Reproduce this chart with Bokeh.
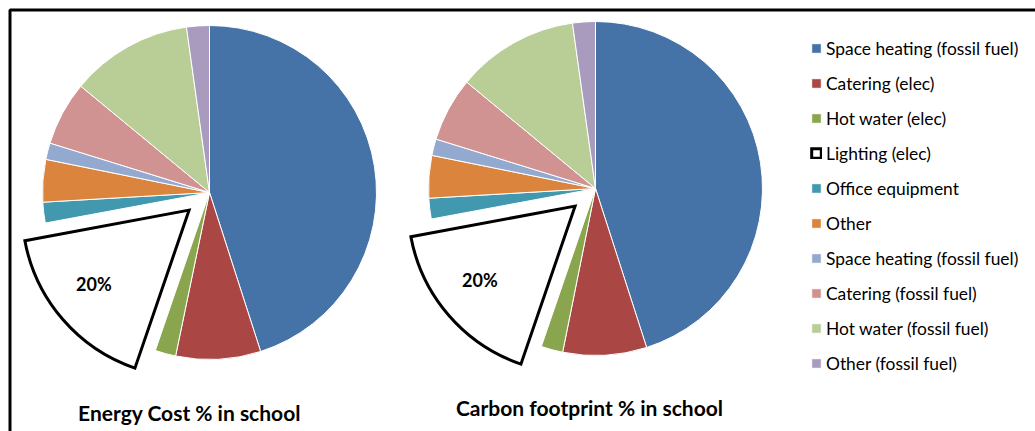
import math
from bokeh.plotting import figure
from bokeh.models import ColumnDataSource, Legend, LegendItem, Range1d, BoxAnnotation
from bokeh.core.properties import value
from bokeh.embed import file_html
from bokeh.resources import INLINE

# ---------------- data ----------------
categories = [
    "Space heating (fossil fuel)",
    "Catering (elec)",
    "Hot water (elec)",
    "Lighting (elec)",
    "Office equipment",
    "Other",
    "Space heating (fossil fuel)",
    "Catering (fossil fuel)",
    "Hot water (fossil fuel)",
    "Other (fossil fuel)",
]
energy_cost = [45.0, 8.2, 2.0, 16.8, 2.0, 4.1, 1.6, 6.2, 11.8, 2.2]
carbon_footprint = [45.0, 8.1, 2.1, 16.8, 2.0, 4.1, 1.6, 6.2, 11.8, 2.2]
slice_labels = ["", "", "", "20%", "", "", "", "", "", ""]
chart_titles = ["Energy Cost % in school", "Carbon footprint % in school"]

# ---------------- style ----------------
colors = ["#4572A7", "#AA4643", "#89A54E", "#FFFFFF", "#4198AF",
          "#DB843D", "#93A9CF", "#D19392", "#B9CD96", "#A99BBD"]
EXPLODE_INDEX = 3
EXPLODE_PX = 27
LABEL_DIST = 0.72      # fraction of radius, from the slice apex
LABEL_TURN = 0.055     # small clockwise turn of the label direction (rad)
R = 167
W, H = 1035, 431
FONT = "Lato"


def to_data(xp, yp):
    # page pixel -> data coordinate (1 data unit = 1 px, y up)
    return xp, H - yp


p = figure(width=W, height=H, output_backend="svg", toolbar_location=None,
           x_range=Range1d(0, W), y_range=Range1d(0, H),
           x_axis_location=None, y_axis_location=None, min_border=0)
p.outline_line_color = None
p.grid.visible = False
p.background_fill_color = "white"
p.border_fill_color = "white"


def pie_source(vals, cx, cy):
    total = float(sum(vals))
    cum = 0.0
    d = dict(x=[], y=[], start=[], end=[], fill=[], line=[], lw=[],
             lx=[], ly=[], label=[])
    for i, v in enumerate(vals):
        a0 = cum / total * 2 * math.pi
        cum += v
        a1 = cum / total * 2 * math.pi
        mid = (a0 + a1) / 2
        exploded = (i == EXPLODE_INDEX)
        off = EXPLODE_PX if exploded else 0
        x = cx + off * math.sin(mid)
        y = cy + off * math.cos(mid)
        d["x"].append(x)
        d["y"].append(y)
        d["start"].append(math.pi / 2 - a1)
        d["end"].append(math.pi / 2 - a0)
        d["fill"].append(colors[i])
        d["line"].append("black" if exploded else "white")
        d["lw"].append(3 if exploded else 1)
        la = mid + LABEL_TURN
        d["lx"].append(x + LABEL_DIST * R * math.sin(la))
        d["ly"].append(y + LABEL_DIST * R * math.cos(la))
        d["label"].append(slice_labels[i])
    return ColumnDataSource(d)


centers = [to_data(209, 192), to_data(595, 188)]
title_pos = [to_data(189, 412), to_data(589, 407)]
renderers = []
for vals, (cx, cy), title, (tx, ty) in zip([energy_cost, carbon_footprint],
                                           centers, chart_titles, title_pos):
    src = pie_source(vals, cx, cy)
    r = p.wedge(x="x", y="y", radius=R, start_angle="start", end_angle="end",
                direction="anticlock", fill_color="fill", line_color="line",
                line_width="lw", line_join="miter", source=src)
    renderers.append(r)
    p.text(x="lx", y="ly", text="label", source=src, text_align="center",
           text_baseline="middle", text_font=value(FONT),
           text_font_style="bold", text_font_size="18px", text_color="black")
    p.text(x=[tx], y=[ty], text=[title], text_align="center",
           text_baseline="middle", text_font=value(FONT),
           text_font_style="bold", text_font_size="21px", text_color="black")

items = [LegendItem(label=c, renderers=[renderers[0]], index=i)
         for i, c in enumerate(categories)]
legend = Legend(items=items, location=(810, 57), glyph_width=12,
                glyph_height=12, label_height=22, spacing=13, padding=0,
                margin=0, label_standoff=4, border_line_alpha=0,
                background_fill_alpha=0, label_text_font=FONT,
                label_text_font_size="17.4px", label_text_color="black")
p.add_layout(legend)

# outer frame (only top and left edges fall inside the picture)
p.add_layout(BoxAnnotation(left=9.5, right=W + 20, top=H - 9.5, bottom=-20,
                           fill_alpha=0, line_color="black", line_width=3,
                           line_alpha=1))

open("out.html", "w").write(file_html(p, INLINE))
